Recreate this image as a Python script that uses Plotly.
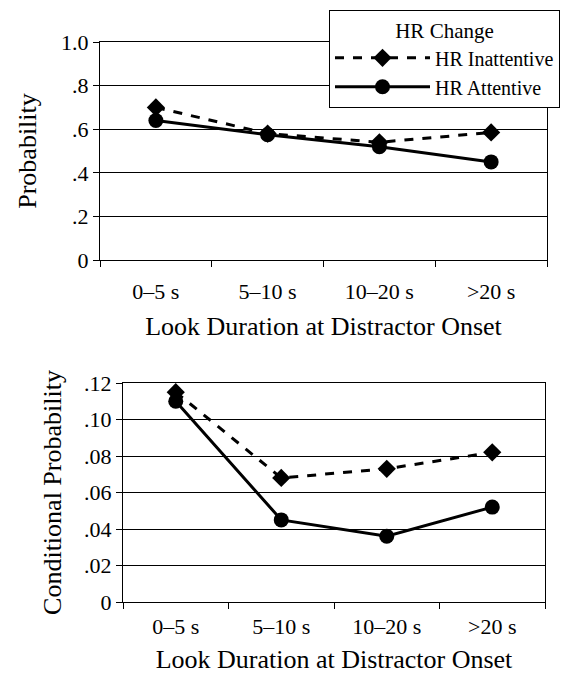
import plotly.graph_objects as go

categories = ["0–5 s", "5–10 s", "10–20 s", ">20 s"]
prob_inattentive = [0.70, 0.58, 0.54, 0.585]
prob_attentive = [0.64, 0.575, 0.52, 0.45]
cond_inattentive = [0.115, 0.068, 0.073, 0.082]
cond_attentive = [0.110, 0.045, 0.036, 0.052]
top_ticks = [0, 0.2, 0.4, 0.6, 0.8, 1.0]
top_ticktext = ["0", ".2", ".4", ".6", ".8", "1.0"]
bot_ticks = [0, 0.02, 0.04, 0.06, 0.08, 0.10, 0.12]
bot_ticktext = ["0", ".02", ".04", ".06", ".08", ".10", ".12"]

FONT = "Times New Roman"
W, H = 571, 679
OFF = 8  # page body margin offset


def px_x(p):
    return (p - OFF) / W


def px_y(p):
    return 1 - (p - OFF) / H


fig = go.Figure()
dash_line = dict(color="black", width=3, dash="dash")
solid_line = dict(color="black", width=3)
dia = dict(symbol="diamond", size=14, color="black")
circ = dict(symbol="circle", size=15, color="black")

fig.add_trace(go.Scatter(x=categories, y=prob_inattentive, mode="lines+markers",
                         line=dash_line, marker=dia, name="HR Inattentive",
                         xaxis="x", yaxis="y"))
fig.add_trace(go.Scatter(x=categories, y=prob_attentive, mode="lines+markers",
                         line=solid_line, marker=circ, name="HR Attentive",
                         xaxis="x", yaxis="y"))
fig.add_trace(go.Scatter(x=categories, y=cond_inattentive, mode="lines+markers",
                         line=dash_line, marker=dia, showlegend=False,
                         xaxis="x2", yaxis="y2"))
fig.add_trace(go.Scatter(x=categories, y=cond_attentive, mode="lines+markers",
                         line=solid_line, marker=circ, showlegend=False,
                         xaxis="x2", yaxis="y2"))

TITLE_FONT = dict(family=FONT, size=26, color="black")

axis_common = dict(showline=True, linecolor="black", linewidth=1, mirror=True,
                   ticks="outside", ticklen=6, tickcolor="black", automargin=False,
                   tickfont=dict(family=FONT, size=22, color="black"))

xcommon = dict(axis_common, type="category", tickson="boundaries",
               showgrid=False, range=[-0.5, 3.5])

fig.update_layout(
    width=W, height=H,
    margin=dict(l=0, r=0, t=0, b=0, autoexpand=False),
    paper_bgcolor="white", plot_bgcolor="white",
    font=dict(family=FONT, color="black"),
    xaxis=dict(xcommon, domain=[px_x(100), px_x(547)], anchor="y",
               ticklabelstandoff=12,
               title=dict(text="Look Duration at Distractor Onset", standoff=13,
                          font=TITLE_FONT)),
    yaxis=dict(axis_common, domain=[px_y(260), px_y(42)], anchor="x",
               range=[0, 1.0], tickvals=top_ticks, ticktext=top_ticktext,
               showgrid=True, gridcolor="black", gridwidth=1, zeroline=False,
               title=dict(text="Probability", standoff=16, font=TITLE_FONT)),
    xaxis2=dict(xcommon, domain=[px_x(123), px_x(545)], anchor="y2",
                ticklabelstandoff=5,
                title=dict(text="Look Duration at Distractor Onset", standoff=11,
                           font=TITLE_FONT)),
    yaxis2=dict(axis_common, domain=[px_y(602), px_y(383)], anchor="x2",
                range=[0, 0.12], tickvals=bot_ticks, ticktext=bot_ticktext,
                showgrid=True, gridcolor="black", gridwidth=1, zeroline=False,
                title=dict(text="Conditional Probability", standoff=14,
                           font=TITLE_FONT)),
    legend=dict(x=px_x(329), y=px_y(10), xanchor="left", yanchor="top",
                bgcolor="white", bordercolor="black", borderwidth=1,
                font=dict(family=FONT, size=20, color="black"),
                title=dict(text="HR Change", side="top center",
                           font=dict(family=FONT, size=21, color="black")),
                tracegroupgap=0, itemwidth=95),
)

fig.write_html("out.html")
